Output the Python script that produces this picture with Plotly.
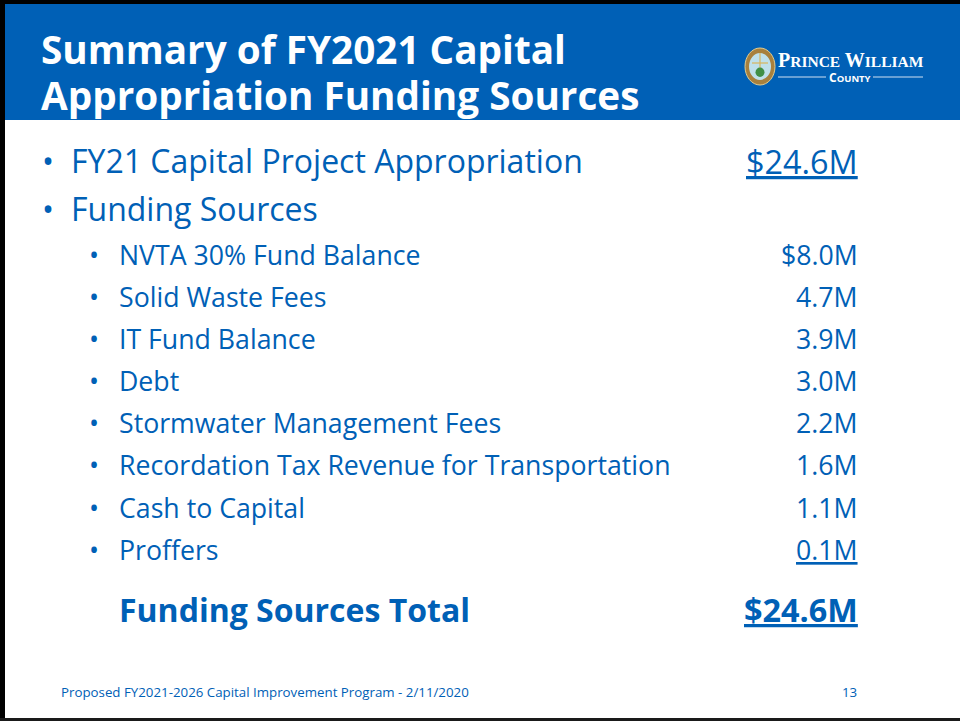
import plotly.graph_objects as go

title_lines = ["Summary of FY2021 Capital", "Appropriation Funding Sources"]
top_labels = ["FY21 Capital Project Appropriation", "Funding Sources"]
top_values = ["$24.6M", ""]
source_labels = ["NVTA 30% Fund Balance", "Solid Waste Fees", "IT Fund Balance", "Debt",
                 "Stormwater Management Fees", "Recordation Tax Revenue for Transportation",
                 "Cash to Capital", "Proffers"]
source_values = ["$8.0M", "4.7M", "3.9M", "3.0M", "2.2M", "1.6M", "1.1M", "0.1M"]
total_label = "Funding Sources Total"
total_value = "$24.6M"
footer_text = "Proposed FY2021-2026 Capital Improvement Program - 2/11/2020"
page_number = "13"

BLUE = "#0060B6"
FONT = "Open Sans"

fig = go.Figure()
anns = []

def text(x, y, s, size, color=BLUE, anchor="left", bold=False, under=False, family=FONT):
    f = dict(family=family, size=size, color=color)
    if under:
        f["lineposition"] = "under"
    if bold:
        f["weight"] = 700
    anns.append(dict(x=x, y=y, xref="x", yref="y", text=s, showarrow=False, font=f,
                     xanchor=anchor, yanchor="middle", align=anchor,
                     borderpad=0, borderwidth=0))

for y, s in zip([49, 94.5], title_lines):
    text(41, y, s, 38.7, color="white", bold=True)

for y, lab, val in zip([160.5, 208.5], top_labels, top_values):
    text(42, y, "•", 32)
    text(71, y, lab, 32)
    if val:
        text(858, y, val, 32.4, anchor="right", under=True)

ys = [254.5, 296.5, 338.5, 380.5, 422.5, 464.5, 507.5, 549.5]
for i, (y, lab, val) in enumerate(zip(ys, source_labels, source_values)):
    text(89, y, "•", 26.7)
    text(119, y, lab, 26.7)
    text(858, y, val, 26.7, anchor="right", under=(i == len(ys) - 1))

text(119, 609, total_label, 32, bold=True)
text(858, 609, total_value, 32.4, anchor="right", bold=True, under=True)

text(61, 692, footer_text, 13.3)
text(857, 692, page_number, 13.3, anchor="right")

# logo text
text(778, 60, "P<span style='font-size:15.5px'>RINCE</span> W<span style='font-size:15.5px'>ILLIAM</span>", 20,
     color="white", bold=True, family="Liberation Serif")
text(850, 77, "C<span style='font-size:9.5px'>OUNTY</span>", 12, color="white", anchor="center", bold=True)

shapes = [
    dict(type="rect", x0=5, x1=960, y0=4, y1=120, fillcolor=BLUE, line_width=0, layer="below"),
    dict(type="rect", x0=0, x1=960, y0=0, y1=4, fillcolor="#000000", line_width=0),
    dict(type="rect", x0=0, x1=5, y0=0, y1=721, fillcolor="#000000", line_width=0),
    dict(type="rect", x0=0, x1=960, y0=718, y1=721, fillcolor="#1a1a1a", line_width=0),
    dict(type="line", x0=778, x1=826, y0=77, y1=77, line=dict(color="#cfe0f2", width=1.2)),
    dict(type="line", x0=873, x1=923, y0=77, y1=77, line=dict(color="#cfe0f2", width=1.2)),
    dict(type="circle", x0=745, x1=775, y0=48, y1=85, fillcolor="#a8803c", line=dict(color="#e3cd8f", width=1)),
    dict(type="circle", x0=749, x1=771, y0=53, y1=80, fillcolor="#bfe0ea", line_width=0),
    dict(type="line", x0=760, x1=760, y0=53, y1=70, line=dict(color="#d9b45a", width=1.2)),
    dict(type="line", x0=752, x1=768, y0=63, y1=63, line=dict(color="#d9b45a", width=1.2)),
    dict(type="circle", x0=755.5, x1=764.5, y0=67.5, y1=77, fillcolor="#3f8f45", line_width=0),
]

fig.update_layout(
    width=960, height=721, margin=dict(l=0, r=0, t=0, b=0),
    paper_bgcolor="white", plot_bgcolor="white", showlegend=False,
    xaxis=dict(range=[0, 960], visible=False, fixedrange=True),
    yaxis=dict(range=[721, 0], visible=False, fixedrange=True),
    annotations=anns, shapes=shapes,
)
fig.write_html("out.html", config=dict(displayModeBar=False),
               post_script="document.body.style.margin='0';document.body.style.overflow='hidden';")
